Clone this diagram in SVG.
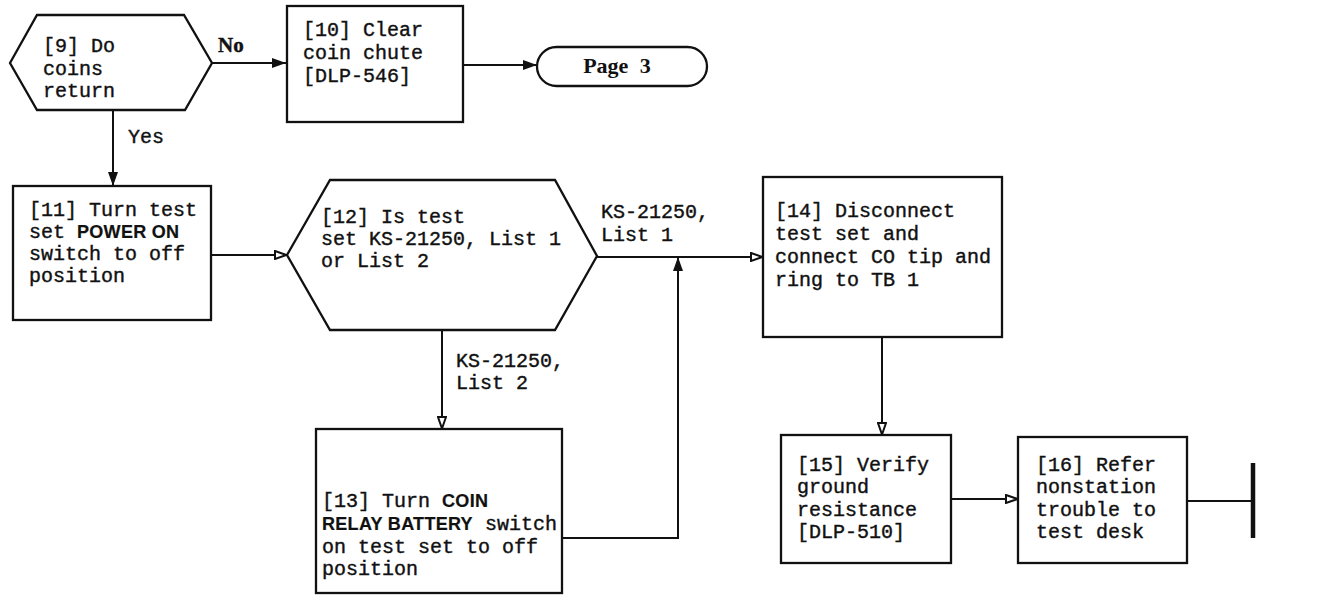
<svg xmlns="http://www.w3.org/2000/svg" width="1324" height="600" viewBox="0 0 1324 600">
<style>
.n{fill:#fff;stroke:#111;stroke-width:2.3}
.t{font-family:"Liberation Mono",monospace;font-size:20px;fill:#111;stroke:#111;stroke-width:0.4}
.b{font-family:"Liberation Sans",sans-serif;font-weight:bold;font-size:18px;letter-spacing:0.3px;stroke-width:0.2}
.c{fill:none;stroke:#111;stroke-width:2}
.ah{marker-end:url(#fa)}
.hh{marker-end:url(#ha)}
</style>
<defs>
<marker id="fa" markerUnits="userSpaceOnUse" markerWidth="15" markerHeight="11" refX="14" refY="5.5" orient="auto">
<path d="M0,0.5 L14,5.5 L0,10.5 z" fill="#111"/>
</marker>
<marker id="ha" markerUnits="userSpaceOnUse" markerWidth="14" markerHeight="10" refX="13" refY="5" orient="auto">
<path d="M1,1 L12.5,5 L1,9 z" fill="#fff" stroke="#111" stroke-width="2"/>
</marker>
</defs>
<rect width="1324" height="600" fill="#fff"/>
<g id="connectors">
<path class="c ah" d="M212,63 L286,63"/>
<path class="c ah" d="M463,65 L537,65"/>
<path class="c ah" d="M113,110 L113,186"/>
<path class="c hh" d="M211,255 L287,255"/>
<path class="c hh" d="M597,257 L763,257"/>
<path class="c hh" d="M442,330 L442,429"/>
<path class="c ah" d="M562,538 L678,538 L678,257"/>
<path class="c hh" d="M882,337 L882,435"/>
<path class="c hh" d="M951,499 L1018,499"/>
<path class="c" d="M1187,501 L1253,501"/>
<path d="M1253,463 L1253,538" stroke="#111" stroke-width="4.5"/>
<text class="t" x="218" y="52" style="font-family:'Liberation Serif',serif;font-weight:bold;font-size:21px">No</text>
<text class="t" x="128" y="143">Yes</text>
<text class="t" x="601" y="218">KS-21250,</text>
<text class="t" x="601" y="241">List 1</text>
<text class="t" x="456" y="367">KS-21250,</text>
<text class="t" x="456" y="389">List 2</text>
</g>
<g id="node9">
<polygon class="n" points="10,63 37,15 184,15 212,63 185,110 37,110"/>
<text class="t" x="43" y="52">[9] Do</text>
<text class="t" x="43" y="75">coins</text>
<text class="t" x="43" y="97">return</text>
</g>
<g id="node10">
<rect class="n" x="287" y="6" width="176" height="116"/>
<text class="t" x="303" y="36">[10] Clear</text>
<text class="t" x="303" y="59">coin chute</text>
<text class="t" x="303" y="82">[DLP-546]</text>
</g>
<g id="page3">
<rect class="n" x="537" y="47" width="170" height="39" rx="19.5"/>
<text x="617" y="73" text-anchor="middle" style="font-family:'Liberation Serif',serif;font-weight:bold;font-size:22px;word-spacing:6px" fill="#111">Page 3</text>
</g>
<g id="node11">
<rect class="n" x="13" y="186" width="198" height="134"/>
<text class="t" x="29" y="216">[11] Turn test</text>
<text class="t" x="29" y="238">set <tspan class="b">POWER ON</tspan></text>
<text class="t" x="29" y="260">switch to off</text>
<text class="t" x="29" y="282">position</text>
</g>
<g id="node12">
<polygon class="n" points="287,255 330,180 555,180 597,256 555,330 330,330"/>
<text class="t" x="321" y="223">[12] Is test</text>
<text class="t" x="321" y="245">set KS-21250, List 1</text>
<text class="t" x="321" y="267">or List 2</text>
</g>
<g id="node13">
<rect class="n" x="316" y="429" width="246" height="164"/>
<text class="t" x="322" y="507">[13] Turn <tspan class="b">COIN</tspan></text>
<text class="t" x="322" y="530"><tspan class="b">RELAY BATTERY</tspan> switch</text>
<text class="t" x="322" y="553">on test set to off</text>
<text class="t" x="322" y="575">position</text>
</g>
<g id="node14">
<rect class="n" x="763" y="177" width="239" height="160"/>
<text class="t" x="775" y="217">[14] Disconnect</text>
<text class="t" x="775" y="240">test set and</text>
<text class="t" x="775" y="263">connect CO tip and</text>
<text class="t" x="775" y="286">ring to TB 1</text>
</g>
<g id="node15">
<rect class="n" x="781" y="435" width="170" height="128"/>
<text class="t" x="797" y="471">[15] Verify</text>
<text class="t" x="797" y="493">ground</text>
<text class="t" x="797" y="516">resistance</text>
<text class="t" x="797" y="538">[DLP-510]</text>
</g>
<g id="node16">
<rect class="n" x="1018" y="437" width="169" height="126"/>
<text class="t" x="1036" y="471">[16] Refer</text>
<text class="t" x="1036" y="493">nonstation</text>
<text class="t" x="1036" y="516">trouble to</text>
<text class="t" x="1036" y="538">test desk</text>
</g>
</svg>
